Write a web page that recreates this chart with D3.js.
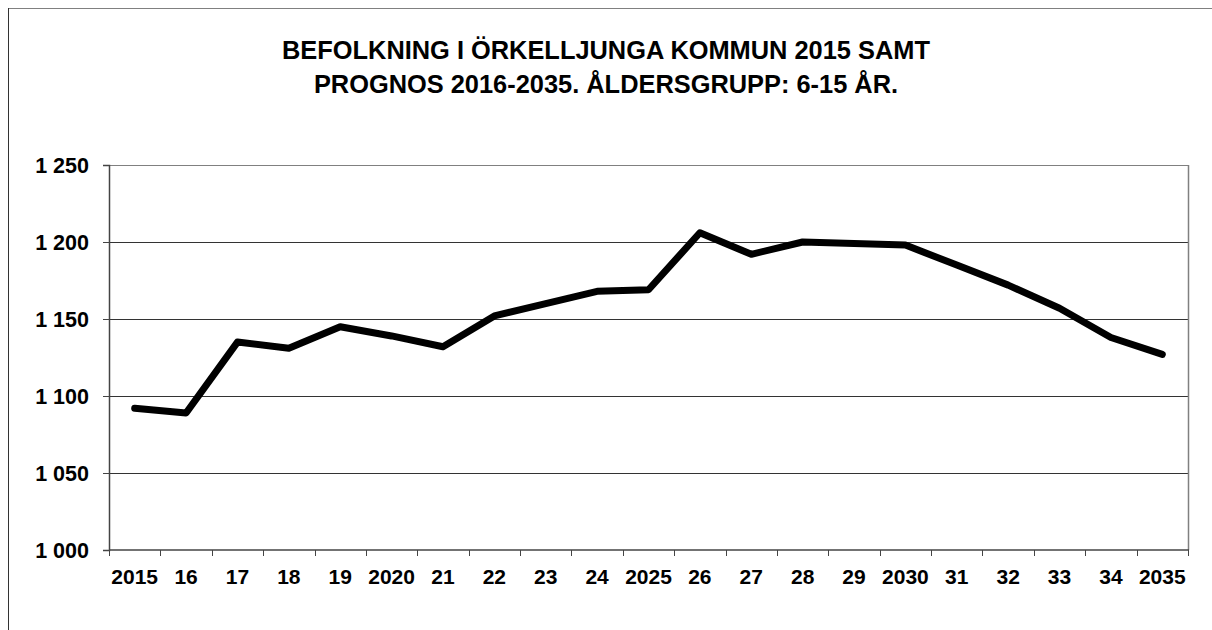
<!DOCTYPE html>
<html>
<head>
<meta charset="utf-8">
<script src="https://cdn.jsdelivr.net/npm/d3@7"></script>
<style>
  body { margin: 0; background: #fff; }
  svg { display: block; }
  text { font-family: "Liberation Sans", Arial, sans-serif; font-weight: bold; fill: #000; }
</style>
</head>
<body>
<div id="chart"></div>
<script>
// data
var years = ["2015","16","17","18","19","2020","21","22","23","24","2025",
             "26","27","28","29","2030","31","32","33","34","2035"]
var persons = [1092,1089,1135,1131,1145,1139,1132,1152,1160,1168,1169,
               1206,1192,1200,1199,1198,1185,1172,1157,1138,1127]
var yTicks = [1000,1050,1100,1150,1200,1250]
var titleLines = ["BEFOLKNING I ÖRKELLJUNGA KOMMUN 2015 SAMT",
                  "PROGNOS 2016-2035. ÅLDERSGRUPP: 6-15 ÅR."]

var width = 1212, height = 630
var plot = {left: 109, right: 1188, top: 165, bottom: 550}

var svg = d3.select("#chart").append("svg")
            .attr("width", width)
            .attr("height", height)

// outer frame (cut off at right and bottom)
svg.append("line")
   .attr("x1", 8.5).attr("y1", 8.5).attr("x2", width).attr("y2", 8.5)
   .attr("stroke", "#808080").attr("stroke-width", 1)
svg.append("line")
   .attr("x1", 8.5).attr("y1", 8).attr("x2", 8.5).attr("y2", height)
   .attr("stroke", "#333").attr("stroke-width", 1)

// title
svg.append("text")
   .attr("text-anchor", "middle")
   .style("font-size", "25.4px")
   .selectAll("tspan")
   .data(titleLines)
   .enter().append("tspan")
   .attr("x", 606)
   .attr("y", (d, i) => 59 + i * 34)
   .text(d => d)

var x = d3.scaleBand()
          .domain(years)
          .range([plot.left, plot.right])
var y = d3.scaleLinear()
          .domain([1000, 1250])
          .range([plot.bottom, plot.top])

// gridlines
svg.append("g")
   .selectAll("line")
   .data(yTicks.filter(d => d > 1000))
   .enter().append("line")
   .attr("x1", plot.left).attr("x2", plot.right)
   .attr("y1", d => Math.round(y(d)) + 0.5)
   .attr("y2", d => Math.round(y(d)) + 0.5)
   .attr("stroke", d => d == 1250 ? "#808080" : "#333")
   .attr("stroke-width", 1)

// right plot border
svg.append("line")
   .attr("x1", plot.right + 0.5).attr("x2", plot.right + 0.5)
   .attr("y1", plot.top).attr("y2", plot.bottom)
   .attr("stroke", "#808080").attr("stroke-width", 1.5)

// y axis
var yAxis = d3.axisLeft(y)
              .tickValues(yTicks)
              .tickSize(6)
              .tickPadding(14)
              .tickFormat(d => d3.format(",")(d).replace(",", " "))
var gy = svg.append("g")
            .attr("transform", "translate(" + plot.left + ",0)")
            .call(yAxis)
gy.attr("font-size", null).attr("font-family", null)
gy.select(".domain").attr("stroke", "#444").attr("stroke-width", 1.5)
gy.selectAll(".tick line").attr("stroke", "#444")
gy.selectAll("text").style("font-size", "21.5px").attr("dy", "0.36em")

// x axis, ticks at category borders
var gx = svg.append("g")
            .attr("transform", "translate(0," + plot.bottom + ")")
gx.append("line")
  .attr("x1", plot.left).attr("x2", plot.right + 1)
  .attr("stroke", "#444").attr("stroke-width", 1.5)
gx.selectAll(".tk")
  .data(years.concat(["end"]))
  .enter().append("line")
  .attr("class", "tk")
  .attr("x1", (d, i) => Math.round(plot.left + i * x.step()) + 0.5)
  .attr("x2", (d, i) => Math.round(plot.left + i * x.step()) + 0.5)
  .attr("y1", 0).attr("y2", 6)
  .attr("stroke", "#444")
gx.selectAll(".lbl")
  .data(years)
  .enter().append("text")
  .attr("class", "lbl")
  .attr("x", d => x(d) + x.bandwidth() / 2)
  .attr("y", 34)
  .attr("text-anchor", "middle")
  .style("font-size", "21px")
  .text(d => d)

// the line
var line = d3.line()
             .x((d, i) => x(years[i]) + x.bandwidth() / 2)
             .y(d => y(d))
svg.append("path")
   .datum(persons)
   .attr("d", line)
   .attr("fill", "none")
   .attr("stroke", "#000")
   .attr("stroke-width", 7)
   .attr("stroke-linejoin", "round")
   .attr("stroke-linecap", "round")
</script>
</body>
</html>
